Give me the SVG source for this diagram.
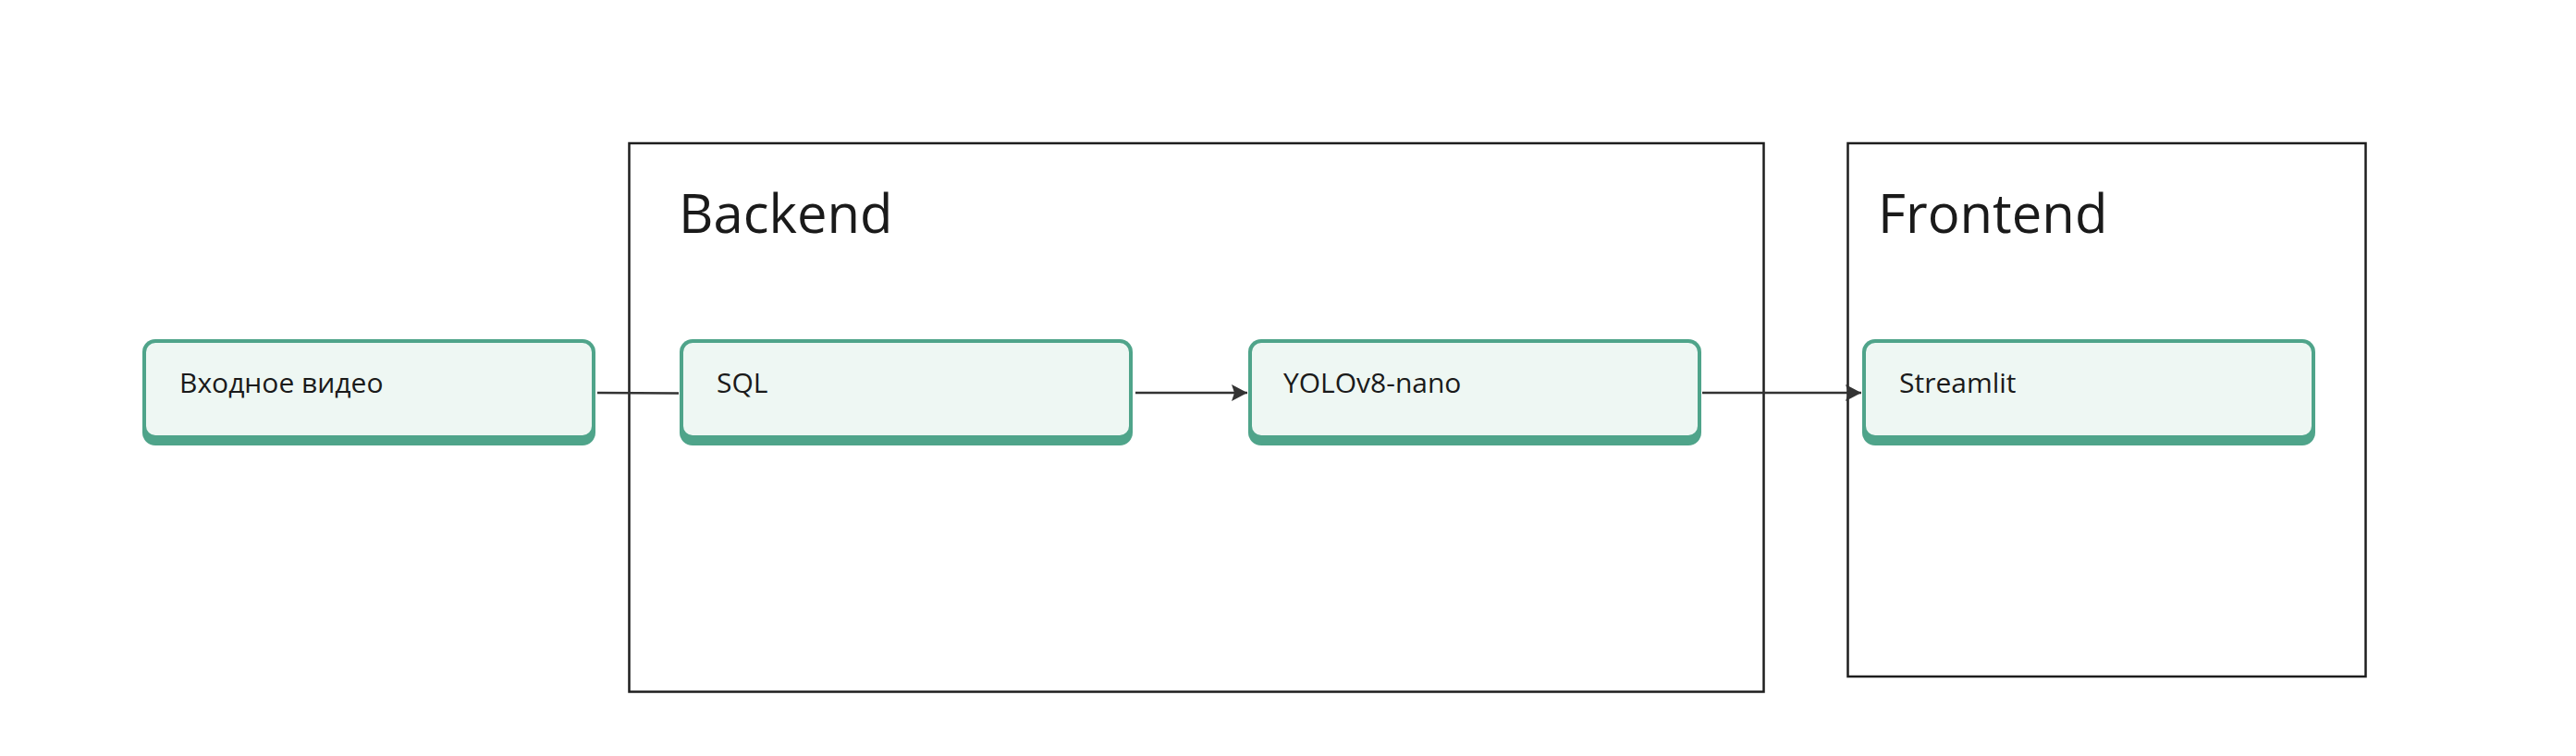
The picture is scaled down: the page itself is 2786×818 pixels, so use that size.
<svg xmlns="http://www.w3.org/2000/svg" width="2786" height="818" viewBox="0 0 2786 818">
<style>
.container{fill:none;stroke:#1e1e1e;stroke-width:2.5}
.title{font-family:"Open Sans","Noto Sans",sans-serif;font-size:58px;fill:#1a1a1a}
.shadow{fill:#4fa48a}
.face{fill:#eef7f3}
.label{font-family:"Open Sans","Noto Sans",sans-serif;font-size:30px;fill:#1a1a1a}
.conn{fill:none;stroke:#333;stroke-width:2.5}
</style>
<defs>
<marker id="arrow" viewBox="0 0 17 18" refX="17" refY="9" markerWidth="17" markerHeight="18" markerUnits="userSpaceOnUse" orient="auto">
<path d="M0,0 L17,9 L0,18 L3,9 Z" fill="#333"/>
</marker>
</defs>
<rect width="2786" height="818" fill="#ffffff"/>
<g id="backend">
<rect class="container" x="680.5" y="155" width="1227" height="593.5"/>
<text class="title" x="734" y="252">Backend</text>
</g>
<g id="frontend">
<rect class="container" x="1998.5" y="155" width="560" height="577"/>
<text class="title" x="2031" y="252">Frontend</text>
</g>
<g id="connectors">
<path class="conn" d="M646,425 L734,425.5"/>
<path class="conn" d="M1228,425 L1349,425" marker-end="url(#arrow)"/>
<path class="conn" d="M1841,425 L2013,425" marker-end="url(#arrow)"/>
</g>
<g id="input">
<rect class="shadow" x="154" y="367" width="490" height="115" rx="14"/>
<rect class="face" x="158" y="371" width="482" height="100" rx="10"/>
<text class="label" x="194" y="425">Входное видео</text>
</g>
<g id="sql">
<rect class="shadow" x="735" y="367" width="490" height="115" rx="14"/>
<rect class="face" x="739" y="371" width="482" height="100" rx="10"/>
<text class="label" x="775" y="425">SQL</text>
</g>
<g id="yolo">
<rect class="shadow" x="1350" y="367" width="490" height="115" rx="14"/>
<rect class="face" x="1354" y="371" width="482" height="100" rx="10"/>
<text class="label" x="1388" y="425">YOLOv8-nano</text>
</g>
<g id="streamlit">
<rect class="shadow" x="2014" y="367" width="490" height="115" rx="14"/>
<rect class="face" x="2018" y="371" width="482" height="100" rx="10"/>
<text class="label" x="2054" y="425">Streamlit</text>
</g>
</svg>
